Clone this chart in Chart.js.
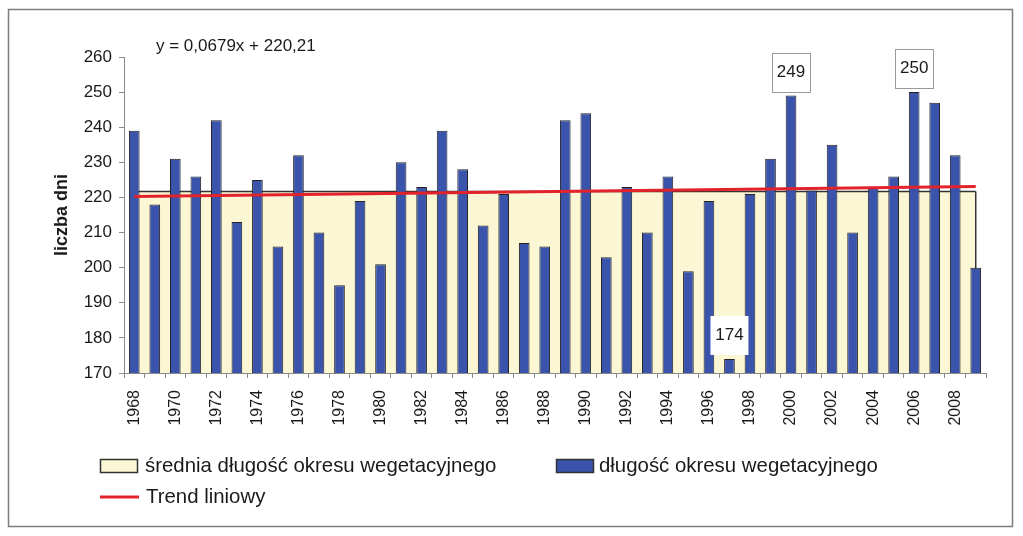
<!DOCTYPE html>
<html>
<head>
<meta charset="utf-8">
<script src="https://cdn.jsdelivr.net/npm/chart.js@4"></script>
<style>
  body { margin: 0; background: #fff; }
  #wrap { width: 1023px; height: 536px; position: relative; }
</style>
</head>
<body>
<div id="wrap"><canvas id="myChart"></canvas></div>
<script>
// data
const years = [];
for (let y = 1968; y <= 2009; y++) years.push(String(y));

const dlugosc = [239, 218, 231, 226, 242, 213, 225, 206, 232, 210,
                 195, 219, 201, 230, 223, 239, 228, 212, 221, 207,
                 206, 242, 244, 203, 223, 210, 226, 199, 219, 174,
                 221, 231, 249, 222, 235, 210, 223, 226, 250, 247,
                 232, 200];
const sredniaValue = 221.7;
const trendStart = 220.3;
const trendEnd = 223.1;
const labelledYears = ['1997', '2000', '2006'];
const yTicks = [170, 180, 190, 200, 210, 220, 230, 240, 250, 260];
const equationText = 'y = 0,0679x + 220,21';

const srednia = years.map(() => sredniaValue);
const trend = years.map((y, i) => i === 0 ? trendStart : (i === years.length - 1 ? trendEnd : null));

const BLUE = '#3a53ab';
const YELLOW = '#fbf7d5';
const RED = '#e3232c';
const FONT = "'Liberation Sans', Arial, sans-serif";

// ramka, rownanie, etykiety, legenda
const rysunki = {
    id: 'rysunki',
    beforeDraw(chart) {
        const {ctx} = chart;
        ctx.save();
        ctx.fillStyle = '#fff';
        ctx.fillRect(0, 0, chart.width, chart.height);
        ctx.strokeStyle = '#7d7d7d';
        ctx.lineWidth = 1.5;
        ctx.strokeRect(8.5, 9.5, 1004, 517);
        ctx.restore();
    },
    afterDatasetDraw(chart, args) {
        if (args.index !== 0) return;
        // pionowe krawedzie sredniej
        const {ctx} = chart;
        const pts = chart.getDatasetMeta(0).data;
        const yBottom = chart.scales.y.getPixelForValue(170);
        ctx.save();
        ctx.strokeStyle = '#333';
        ctx.lineWidth = 1.5;
        [pts[0], pts[pts.length - 1]].forEach(p => {
            ctx.beginPath();
            ctx.moveTo(p.x, p.y);
            ctx.lineTo(p.x, yBottom);
            ctx.stroke();
        });
        ctx.restore();
    },
    afterDraw(chart) {
        const {ctx} = chart;
        ctx.save();
        ctx.fillStyle = '#1a1a1a';
        ctx.font = '17px ' + FONT;
        ctx.textBaseline = 'alphabetic';
        ctx.textAlign = 'left';
        ctx.fillText(equationText, 156, 51);

        // etykiety wartosci
        const bars = chart.getDatasetMeta(1).data;
        labelledYears.forEach(yr => {
            const i = years.indexOf(yr);
            const bar = bars[i];
            const w = 38, h = 39;
            const bx = bar.x - w / 2;
            const by = bar.y - 4 - h;
            ctx.fillStyle = '#fff';
            ctx.fillRect(bx, by, w, h);
            if (dlugosc[i] > sredniaValue) {
                ctx.strokeStyle = '#9a9a9a';
                ctx.lineWidth = 1;
                ctx.strokeRect(Math.round(bx) + 0.5, Math.round(by) + 0.5, w, h);
            }
            ctx.fillStyle = '#1a1a1a';
            ctx.font = '17px ' + FONT;
            ctx.textAlign = 'center';
            ctx.textBaseline = 'middle';
            ctx.fillText(String(dlugosc[i]), bar.x, by + h / 2);
        });

        // legenda
        ctx.textAlign = 'left';
        ctx.textBaseline = 'alphabetic';
        ctx.font = '20.4px ' + FONT;
        ctx.lineWidth = 1.5;
        ctx.strokeStyle = '#333';
        ctx.fillStyle = YELLOW;
        ctx.fillRect(100.5, 459.5, 37, 13);
        ctx.strokeRect(100.5, 459.5, 37, 13);
        ctx.fillStyle = '#1a1a1a';
        ctx.fillText('średnia długość okresu wegetacyjnego', 145, 472);

        ctx.fillStyle = BLUE;
        ctx.fillRect(556.5, 459.5, 37, 13);
        ctx.strokeRect(556.5, 459.5, 37, 13);
        ctx.fillStyle = '#1a1a1a';
        ctx.fillText('długość okresu wegetacyjnego', 599, 472);

        ctx.strokeStyle = RED;
        ctx.lineWidth = 3;
        ctx.beginPath();
        ctx.moveTo(100, 497);
        ctx.lineTo(139, 497);
        ctx.stroke();
        ctx.fillStyle = '#1a1a1a';
        ctx.fillText('Trend liniowy', 146, 503);
        ctx.restore();
    }
};

const config = {
    type: 'bar',
    data: {
        labels: years,
        datasets: [
            {
                type: 'line',
                label: 'średnia długość okresu wegetacyjnego',
                data: srednia,
                borderColor: '#333',
                borderWidth: 1.5,
                backgroundColor: YELLOW,
                fill: 'start',
                pointRadius: 0,
                tension: 0,
                order: 3
            },
            {
                type: 'bar',
                label: 'długość okresu wegetacyjnego',
                data: dlugosc,
                backgroundColor: BLUE,
                borderColor: '#222',
                borderWidth: 1,
                borderSkipped: false,
                barPercentage: 0.52,
                categoryPercentage: 1,
                order: 2
            },
            {
                type: 'line',
                label: 'Trend liniowy',
                data: trend,
                borderColor: RED,
                borderWidth: 3,
                pointRadius: 0,
                spanGaps: true,
                fill: false,
                order: 1
            }
        ]
    },
    options: {
        responsive: true,
        maintainAspectRatio: false,
        animation: false,
        layout: { padding: { top: 57, right: 37, left: 0, bottom: 0 } },
        plugins: {
            legend: { display: false },
            tooltip: { enabled: false }
        },
        scales: {
            x: {
                offset: true,
                afterFit(scale) { scale.height = 163; },
                border: { color: '#8a8a8a', width: 1 },
                grid: { offset: true, drawOnChartArea: false, drawTicks: true, tickLength: 5, color: '#8a8a8a' },
                ticks: {
                    autoSkip: false,
                    minRotation: 90,
                    maxRotation: 90,
                    padding: 12,
                    color: '#1a1a1a',
                    font: { family: FONT, size: 16 },
                    callback: (val, i) => i % 2 === 0 ? years[i] : ''
                }
            },
            y: {
                min: yTicks[0],
                max: yTicks[yTicks.length - 1],
                afterFit(scale) { scale.width = 124; },
                afterBuildTicks(scale) { scale.ticks = yTicks.map(v => ({value: v})); },
                border: { color: '#8a8a8a', width: 1 },
                grid: { drawOnChartArea: false, drawTicks: true, tickLength: 5, color: '#8a8a8a' },
                ticks: {
                    padding: 7,
                    color: '#1a1a1a',
                    font: { family: FONT, size: 17 }
                },
                title: {
                    display: true,
                    text: 'liczba dni',
                    color: '#1a1a1a',
                    font: { family: FONT, size: 18, weight: 'bold' },
                    padding: { top: 51, bottom: 0 }
                }
            }
        }
    },
    plugins: [rysunki]
};

const myChart = new Chart(document.getElementById('myChart'), config);
</script>
</body>
</html>
